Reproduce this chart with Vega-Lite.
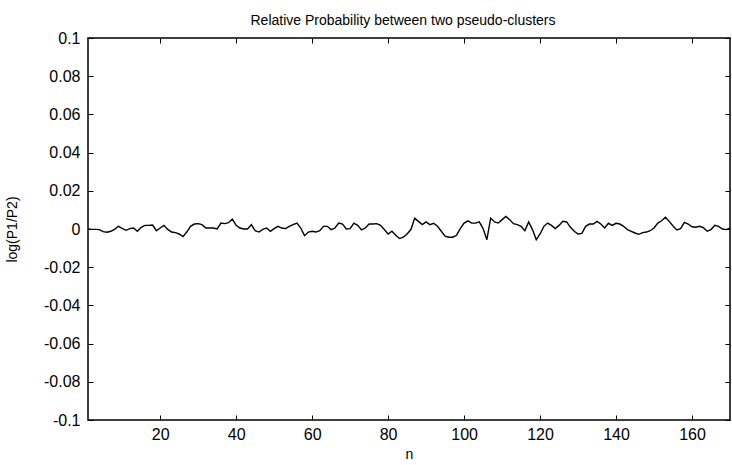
{
  "$schema": "https://vega.github.io/schema/vega-lite/v6.json",
  "autosize": "none",
  "width": 642,
  "height": 382,
  "padding": {"left": 88, "top": 38, "right": 2, "bottom": 45},
  "background": "white",
  "title": {"text": "Relative Probability between two pseudo-clusters", "font": "Liberation Sans", "fontSize": 14, "fontWeight": "normal", "color": "black", "offset": 2, "dx": -6},
  "config": {
    "view": {"stroke": "black", "strokeWidth": 1.5},
    "axis": {"labelFont": "Liberation Sans", "titleFont": "Liberation Sans", "labelFontSize": 16, "titleFontSize": 14, "titleFontWeight": "normal", "labelColor": "black", "titleColor": "black", "domainColor": "black", "tickColor": "black", "grid": false}
  },
  "data": {"values": [
    {"n":1,"v":0},{"n":2,"v":-0.0002},{"n":3,"v":-0.0002},{"n":4,"v":-0.0003},{"n":5,"v":-0.0014},
    {"n":6,"v":-0.0017},{"n":7,"v":-0.0012},{"n":8,"v":-0.0002},{"n":9,"v":0.0014},{"n":10,"v":0.0003},
    {"n":11,"v":-0.0007},{"n":12,"v":0.0002},{"n":13,"v":0.0005},{"n":14,"v":-0.0012},{"n":15,"v":0.0009},
    {"n":16,"v":0.0019},{"n":17,"v":0.0019},{"n":18,"v":0.0021},{"n":19,"v":-0.0009},{"n":20,"v":0.0005},
    {"n":21,"v":0.0019},{"n":22,"v":-0.0002},{"n":23,"v":-0.0016},{"n":24,"v":-0.0019},{"n":25,"v":-0.0026},
    {"n":26,"v":-0.004},{"n":27,"v":-0.0016},{"n":28,"v":0.0014},{"n":29,"v":0.0026},{"n":30,"v":0.0028},
    {"n":31,"v":0.0023},{"n":32,"v":0.0005},{"n":33,"v":0.0005},{"n":34,"v":0.0005},{"n":35,"v":0},
    {"n":36,"v":0.0031},{"n":37,"v":0.0028},{"n":38,"v":0.0033},{"n":39,"v":0.0052},{"n":40,"v":0.0019},
    {"n":41,"v":0.0005},{"n":42,"v":0},{"n":43,"v":0},{"n":44,"v":0.0023},{"n":45,"v":-0.0009},
    {"n":46,"v":-0.0016},{"n":47,"v":-0.0002},{"n":48,"v":0.0005},{"n":49,"v":-0.0012},{"n":50,"v":0.0002},
    {"n":51,"v":0.0014},{"n":52,"v":0.0005},{"n":53,"v":0.0002},{"n":54,"v":0.0014},{"n":55,"v":0.0023},
    {"n":56,"v":0.0031},{"n":57,"v":0.0005},{"n":58,"v":-0.0035},{"n":59,"v":-0.0016},{"n":60,"v":-0.0012},
    {"n":61,"v":-0.0016},{"n":62,"v":-0.0009},{"n":63,"v":0.0014},{"n":64,"v":0.0014},{"n":65,"v":-0.0003},
    {"n":66,"v":0.0005},{"n":67,"v":0.0031},{"n":68,"v":0.0026},{"n":69,"v":0},{"n":70,"v":0.0002},
    {"n":71,"v":0.0031},{"n":72,"v":0.0019},{"n":73,"v":-0.0005},{"n":74,"v":0.0005},{"n":75,"v":0.0026},
    {"n":76,"v":0.0026},{"n":77,"v":0.0028},{"n":78,"v":0.0019},{"n":79,"v":-0.0003},{"n":80,"v":-0.0026},
    {"n":81,"v":-0.0012},{"n":82,"v":-0.0033},{"n":83,"v":-0.005},{"n":84,"v":-0.0043},{"n":85,"v":-0.0026},
    {"n":86,"v":-0.0003},{"n":87,"v":0.0057},{"n":88,"v":0.004},{"n":89,"v":0.0023},{"n":90,"v":0.0037},
    {"n":91,"v":0.0023},{"n":92,"v":0.003},{"n":93,"v":0.0014},{"n":94,"v":-0.0012},{"n":95,"v":-0.0037},
    {"n":96,"v":-0.0043},{"n":97,"v":-0.0043},{"n":98,"v":-0.0033},{"n":99,"v":0.0002},{"n":100,"v":0.0031},
    {"n":101,"v":0.0043},{"n":102,"v":0.0031},{"n":103,"v":0.0031},{"n":104,"v":0.0037},{"n":105,"v":0.0002},
    {"n":106,"v":-0.0056},{"n":107,"v":0.0057},{"n":108,"v":0.0037},{"n":109,"v":0.0031},{"n":110,"v":0.0049},
    {"n":111,"v":0.0066},{"n":112,"v":0.0049},{"n":113,"v":0.0028},{"n":114,"v":0.0023},{"n":115,"v":0.0014},
    {"n":116,"v":-0.0009},{"n":117,"v":0.0037},{"n":118,"v":-0.0003},{"n":119,"v":-0.0056},{"n":120,"v":-0.0026},
    {"n":121,"v":0.0014},{"n":122,"v":0.0031},{"n":123,"v":0.0019},{"n":124,"v":0.0002},{"n":125,"v":0.0019},
    {"n":126,"v":0.004},{"n":127,"v":0.0037},{"n":128,"v":0.0009},{"n":129,"v":-0.0012},{"n":130,"v":-0.0026},
    {"n":131,"v":-0.0023},{"n":132,"v":0.0014},{"n":133,"v":0.0026},{"n":134,"v":0.0026},{"n":135,"v":0.004},
    {"n":136,"v":0.0026},{"n":137,"v":0.0005},{"n":138,"v":0.003},{"n":139,"v":0.0019},{"n":140,"v":0.003},
    {"n":141,"v":0.0026},{"n":142,"v":0.0014},{"n":143,"v":-0.0003},{"n":144,"v":-0.0012},{"n":145,"v":-0.0021},
    {"n":146,"v":-0.0028},{"n":147,"v":-0.0019},{"n":148,"v":-0.0016},{"n":149,"v":-0.0009},{"n":150,"v":0.0005},
    {"n":151,"v":0.0031},{"n":152,"v":0.0043},{"n":153,"v":0.0061},{"n":154,"v":0.004},{"n":155,"v":0.0016},
    {"n":156,"v":-0.0005},{"n":157,"v":0.0002},{"n":158,"v":0.0035},{"n":159,"v":0.0026},{"n":160,"v":0.0012},
    {"n":161,"v":0.0009},{"n":162,"v":0.0014},{"n":163,"v":0.0007},{"n":164,"v":-0.0012},{"n":165,"v":-0.0003},
    {"n":166,"v":0.0019},{"n":167,"v":0.0014},{"n":168,"v":0},{"n":169,"v":-0.0003},{"n":170,"v":0.0005}
  ]},
  "layer": [
    {
      "mark": {"type": "line", "color": "black", "strokeWidth": 1.4},
      "encoding": {
        "x": {"field": "n", "type": "quantitative", "scale": {"domain": [1, 170], "nice": false, "zero": false},
              "axis": {"orient": "bottom", "title": "n", "values": [20,40,60,80,100,120,140,160], "tickSize": -5, "labelPadding": 11, "titlePadding": 5, "domain": false}},
        "y": {"field": "v", "type": "quantitative", "scale": {"domain": [-0.1, 0.1], "nice": false},
              "axis": {"orient": "left", "title": "log(P1/P2)", "values": [-0.1,-0.08,-0.06,-0.04,-0.02,0,0.02,0.04,0.06,0.08,0.1], "labelExpr": "replace(format(datum.value, '.2~f'), '−', '-')", "tickSize": -5, "labelPadding": 13, "titlePadding": 24, "domain": false}}
      }
    },
    {
      "mark": {"type": "line", "strokeOpacity": 0},
      "encoding": {
        "x": {"field": "n", "type": "quantitative", "scale": {"domain": [1, 170], "nice": false, "zero": false},
              "axis": {"orient": "top", "title": null, "labels": false, "values": [20,40,60,80,100,120,140,160], "tickSize": -5, "domain": false}},
        "y": {"field": "v", "type": "quantitative", "scale": {"domain": [-0.1, 0.1], "nice": false},
              "axis": {"orient": "right", "title": null, "labels": false, "values": [-0.1,-0.08,-0.06,-0.04,-0.02,0,0.02,0.04,0.06,0.08,0.1], "tickSize": -5, "domain": false}}
      }
    }
  ],
  "resolve": {"axis": {"x": "independent", "y": "independent"}}
}
